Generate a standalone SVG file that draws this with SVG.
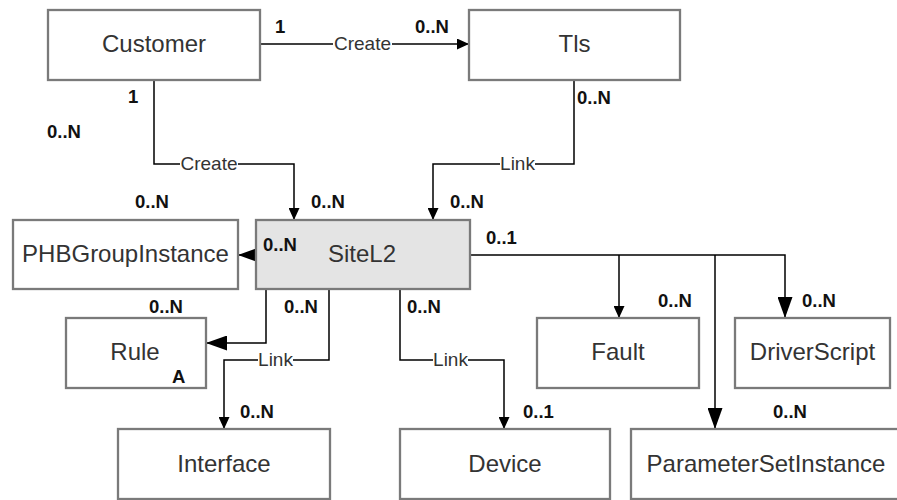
<svg xmlns="http://www.w3.org/2000/svg" width="897" height="500" viewBox="0 0 897 500">
<style>
.box{fill:#fff;stroke:#7a7a7a;stroke-width:2.3}
.main{fill:#e4e4e4}
.name{font-family:"Liberation Sans",Arial,sans-serif;font-size:24px;fill:#333;text-anchor:middle}
.mult{font-family:"Liberation Sans",Arial,sans-serif;font-size:18.5px;font-weight:bold;fill:#111}
.lbl{font-family:"Liberation Sans",Arial,sans-serif;font-size:19px;fill:#333;text-anchor:middle}
.line{fill:none;stroke:#000;stroke-width:1.5}
.bg{fill:#fff}
</style>
<defs>
<marker id="sm" markerUnits="userSpaceOnUse" viewBox="0 0 12 11" refX="12" refY="5.5" markerWidth="12" markerHeight="11" orient="auto"><path d="M0,0 L12,5.5 L0,11 z" fill="#000"/></marker>
<marker id="bg" markerUnits="userSpaceOnUse" viewBox="0 0 21 15" refX="21" refY="7.5" markerWidth="21" markerHeight="15" orient="auto"><path d="M0,0 L21,7.5 L0,15 z" fill="#000"/></marker>
</defs>

<g id="connectors">
<path class="line" d="M260,44 H469" marker-end="url(#sm)"/>
<path class="line" d="M154,80 V164 H294 V220" marker-end="url(#sm)"/>
<path class="line" d="M574,80 V164 H433 V220" marker-end="url(#sm)"/>
<path class="line" d="M256,255 H238" marker-end="url(#bg)"/>
<path class="line" d="M266,289 V343 H206" marker-end="url(#bg)"/>
<path class="line" d="M329,289 V360 H224 V429" marker-end="url(#sm)"/>
<path class="line" d="M400,289 V360 H504 V429" marker-end="url(#sm)"/>
<path class="line" d="M470,255 H785 V318" marker-end="url(#bg)"/>
<path class="line" d="M619,255 V318" marker-end="url(#sm)"/>
<path class="line" d="M715,255 V429" marker-end="url(#bg)"/>
<rect class="bg" x="333" y="36" width="59" height="16"/>
<text class="lbl" x="362.5" y="50">Create</text>
<rect class="bg" x="180" y="156" width="58" height="16"/>
<text class="lbl" x="209" y="170">Create</text>
<rect class="bg" x="500" y="156" width="35" height="16"/>
<text class="lbl" x="517.5" y="170">Link</text>
<rect class="bg" x="258" y="352" width="35" height="16"/>
<text class="lbl" x="275.5" y="366">Link</text>
<rect class="bg" x="433" y="352" width="35" height="16"/>
<text class="lbl" x="450.5" y="366">Link</text>
<text class="mult" x="275" y="33">1</text>
<text class="mult" x="415" y="33">0..N</text>
<text class="mult" x="128" y="103">1</text>
<text class="mult" x="47" y="138">0..N</text>
<text class="mult" x="577" y="104">0..N</text>
<text class="mult" x="135" y="208">0..N</text>
<text class="mult" x="311" y="208">0..N</text>
<text class="mult" x="450" y="208">0..N</text>
<text class="mult" x="486" y="244">0..1</text>
<text class="mult" x="149" y="313">0..N</text>
<text class="mult" x="284" y="313">0..N</text>
<text class="mult" x="407" y="313">0..N</text>
<text class="mult" x="658" y="307">0..N</text>
<text class="mult" x="802" y="307">0..N</text>
<text class="mult" x="240" y="418">0..N</text>
<text class="mult" x="523" y="418">0..1</text>
<text class="mult" x="773" y="418">0..N</text>
</g>

<g id="customer"><rect class="box" x="48" y="10" width="212" height="70"/><text class="name" x="154" y="52">Customer</text></g>
<g id="tls"><rect class="box" x="469" y="10" width="211" height="70"/><text class="name" x="574.5" y="52">Tls</text></g>
<g id="sitel2"><rect class="box main" x="256" y="220" width="214" height="69"/><text class="name" x="362" y="262">SiteL2</text><text class="mult" x="263" y="251">0..N</text></g>
<g id="phbgroupinstance"><rect class="box" x="13" y="220" width="225" height="69"/><text class="name" x="125.5" y="262">PHBGroupInstance</text></g>
<g id="rule"><rect class="box" x="66" y="318" width="140" height="70"/><text class="name" x="135" y="360">Rule</text><text class="mult" x="172" y="383">A</text></g>
<g id="fault"><rect class="box" x="537" y="318" width="162" height="70"/><text class="name" x="618" y="360">Fault</text></g>
<g id="driverscript"><rect class="box" x="735" y="318" width="155" height="70"/><text class="name" x="812.5" y="360">DriverScript</text></g>
<g id="interface"><rect class="box" x="118" y="429" width="212" height="70"/><text class="name" x="224" y="472">Interface</text></g>
<g id="device"><rect class="box" x="400" y="429" width="210" height="70"/><text class="name" x="505" y="472">Device</text></g>
<g id="parametersetinstance"><rect class="box" x="631" y="429" width="272" height="70"/><text class="name" x="766" y="472">ParameterSetInstance</text></g>
</svg>
